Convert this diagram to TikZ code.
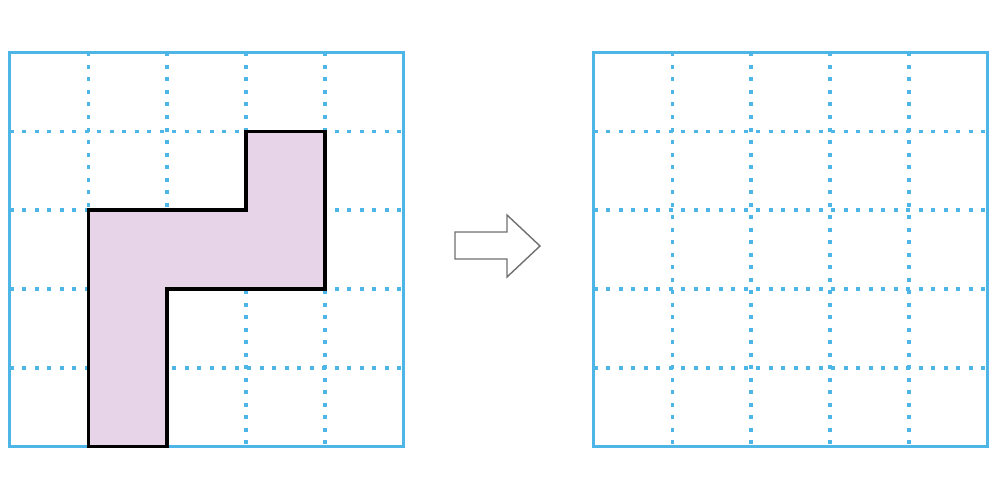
\documentclass[tikz,border=0pt]{standalone}
\usetikzlibrary{calc}
\definecolor{gridblue}{HTML}{4DB6E6}
\definecolor{shapepink}{HTML}{E8D4E8}
\definecolor{arrowgray}{HTML}{707070}
\tikzset{
  gridframe/.style={draw=gridblue, line width=3.2pt},
  griddots/.style={draw=gridblue, line width=3.6pt, dash pattern=on 4pt off 8.5pt},
  figshape/.style={draw=black, line width=3.6pt, fill=shapepink, line join=miter},
  hollowarrow/.style={draw=arrowgray, line width=1.4pt, fill=white, line join=miter},
}
\begin{document}
\begin{tikzpicture}[x=1pt,y=-1pt]
\useasboundingbox (0,0) rectangle (1000,500);
\coordinate (L) at (9.5,52.5);
\coordinate (R) at (593.5,52.5);
\def\cs{78.8}
\foreach \o in {L,R}{
  \foreach \i in {1,2,3,4}{
    \draw[griddots] ($(\o)+(\i*\cs,0)$) -- ($(\o)+(\i*\cs,5*\cs)$);
    \draw[griddots] ($(\o)+(0,\i*\cs)$) -- ($(\o)+(5*\cs,\i*\cs)$);
  }
  \draw[gridframe] (\o) rectangle ($(\o)+(5*\cs,5*\cs)$);
}
% shape on left grid, above the dots and the frame
\draw[figshape] ($(L)+(1*\cs,5*\cs)$) -- ($(L)+(1*\cs,2*\cs)$) -- ($(L)+(3*\cs,2*\cs)$)
  -- ($(L)+(3*\cs,1*\cs)$) -- ($(L)+(4*\cs,1*\cs)$) -- ($(L)+(4*\cs,3*\cs)$)
  -- ($(L)+(2*\cs,3*\cs)$) -- ($(L)+(2*\cs,5*\cs)$) -- cycle;
% arrow
\draw[hollowarrow] (455,232) -- (507,232) -- (507,215) -- (540,246) -- (507,277) -- (507,259) -- (455,259) -- cycle;
\end{tikzpicture}
\end{document}
